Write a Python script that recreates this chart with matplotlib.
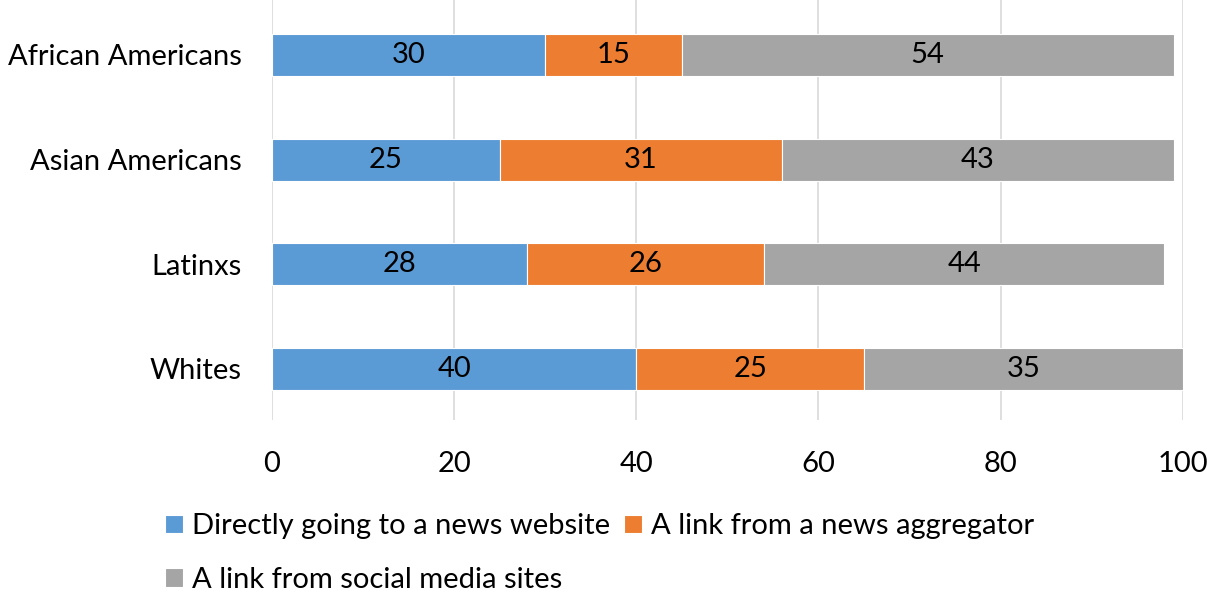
import matplotlib.pyplot as plt
import numpy as np

plt.rcParams['font.family'] = ['Lato', 'DejaVu Sans']

groups = ['Whites', 'Latinxs', 'Asian Americans', 'African Americans']
direct = [40, 28, 25, 30]
aggregator = [25, 26, 31, 15]
social = [35, 44, 43, 54]

series_names = ['Directly going to a news website',
                'A link from a news aggregator',
                'A link from social media sites']
colors = ['#5B9BD5', '#ED7D31', '#A5A5A5']

fig = plt.figure(figsize=(12.07, 5.98), dpi=100)
ax = fig.add_axes([0.2254, 0.2977, 0.7544, 0.7023])

y = np.arange(len(groups))
left = np.zeros(len(groups))
bars = []
for vals, name, c in zip([direct, aggregator, social], series_names, colors):
    b = ax.barh(y, vals, left=left, height=0.4, color=c, label=name,
                edgecolor='white', linewidth=0.8, zorder=3)
    for yi, l, v in zip(y, left, vals):
        ax.text(l + v / 2, yi, str(v), ha='center', va='center',
                fontsize=21, color='black', zorder=4)
    left += np.array(vals)
    bars.append(b)

ax.set_xlim(0, 100)
ax.set_ylim(-0.487, 3.525)
ax.set_xticks(np.arange(0, 101, 20))
ax.set_yticks(y)
ax.set_yticklabels(groups)
ax.tick_params(axis='both', length=0, labelsize=21)
ax.tick_params(axis='x', pad=22)
ax.tick_params(axis='y', pad=22)
ax.grid(axis='x', color='#D9D9D9', linewidth=1.2, zorder=0)
for s in ax.spines.values():
    s.set_visible(False)

# two rows: first row holds the first two series, second row the last
handles = [bars[0], bars[2], bars[1]]
labels = [series_names[0], series_names[2], series_names[1]]
fig.legend(handles, labels, ncol=2, loc='upper left',
           bbox_to_anchor=(0.125, 0.166), frameon=False, fontsize=21,
           handlelength=0.6, handleheight=0.6, handletextpad=0.3,
           columnspacing=0.5, labelspacing=0.95, borderpad=0)

fig.savefig('out.png', dpi=100)
